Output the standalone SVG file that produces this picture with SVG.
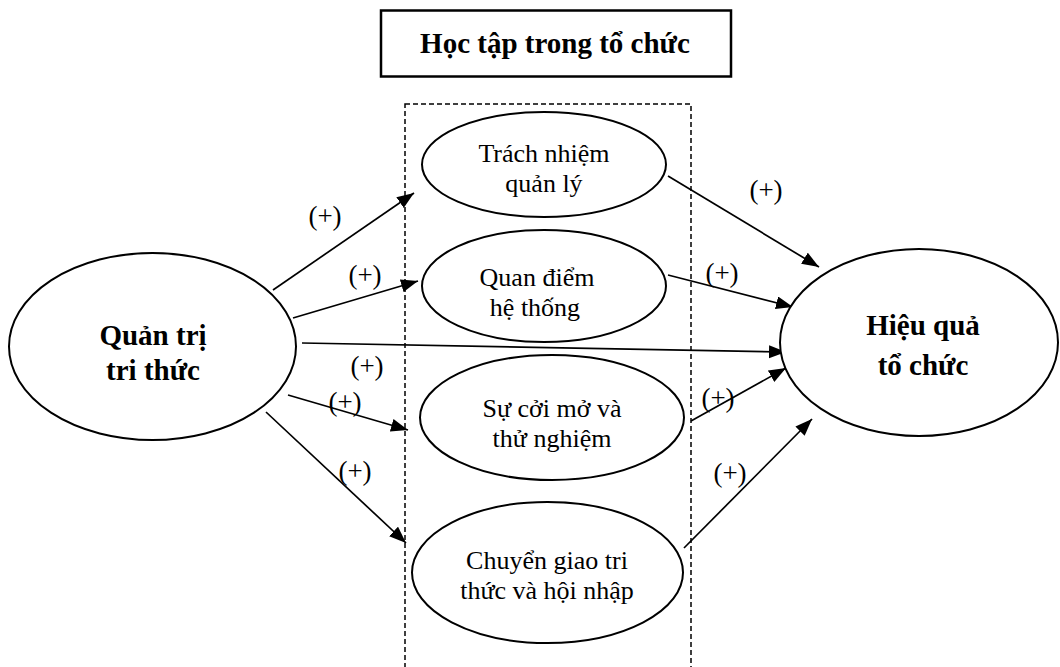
<svg xmlns="http://www.w3.org/2000/svg" width="1060" height="667" viewBox="0 0 1060 667">
  <style>
    .node { fill: #fff; stroke: #000; stroke-width: 2; }
    .txt { font-family: "Liberation Serif", "Times New Roman", serif; font-size: 26px; fill: #000; text-anchor: middle; }
    .bold { font-weight: bold; font-size: 29px; }
    .lbl { font-family: "Liberation Serif", "Times New Roman", serif; font-size: 27px; fill: #000; text-anchor: middle; }
    .edge { stroke: #000; stroke-width: 1.7; fill: none; marker-end: url(#arrow); }
    .frame { fill: none; stroke: #000; stroke-width: 1.5; stroke-dasharray: 5 3; }
  </style>
  <defs>
    <marker id="arrow" markerUnits="userSpaceOnUse" markerWidth="18" markerHeight="14" refX="17" refY="6.5" orient="auto">
      <path d="M0,0 L17,6.5 L0,13 z" fill="#000"/>
    </marker>
  </defs>

  <rect width="1060" height="667" fill="#fff"/>

  <!-- Title box -->
  <g id="title">
    <rect x="381" y="10.5" width="350" height="66" fill="#fff" stroke="#000" stroke-width="2.5"/>
    <text class="txt bold" x="555" y="53">Học tập trong tổ chức</text>
  </g>

  <!-- Dashed frame around the learning dimensions -->
  <rect id="frame" class="frame" x="405" y="104" width="286" height="600"/>

  <!-- Connectors -->
  <g id="connectors">
    <line class="edge" x1="273" y1="290" x2="414" y2="193"/>
    <line class="edge" x1="293" y1="318" x2="418" y2="281"/>
    <line class="edge" x1="302" y1="343" x2="786" y2="352"/>
    <line class="edge" x1="288" y1="395" x2="408" y2="430"/>
    <line class="edge" x1="266" y1="412" x2="406" y2="543"/>
    <line class="edge" x1="668" y1="176" x2="819" y2="267"/>
    <line class="edge" x1="668" y1="275" x2="793" y2="307"/>
    <line class="edge" x1="691" y1="421" x2="786" y2="368"/>
    <line class="edge" x1="684" y1="548" x2="812" y2="419"/>
  </g>

  <!-- Edge labels -->
  <g id="labels">
    <text class="lbl" x="325" y="225">(+)</text>
    <text class="lbl" x="365" y="284">(+)</text>
    <text class="lbl" x="367" y="375">(+)</text>
    <text class="lbl" x="345" y="411">(+)</text>
    <text class="lbl" x="355" y="480">(+)</text>
    <text class="lbl" x="766" y="199">(+)</text>
    <text class="lbl" x="722" y="282">(+)</text>
    <text class="lbl" x="718" y="407">(+)</text>
    <text class="lbl" x="730" y="482">(+)</text>
  </g>

  <!-- Nodes -->
  <g id="quan-tri-tri-thuc">
    <ellipse class="node" cx="152.5" cy="346.5" rx="143.5" ry="93.5"/>
    <text class="txt bold" x="153" y="345">Quản trị</text>
    <text class="txt bold" x="153" y="380">tri thức</text>
  </g>

  <g id="trach-nhiem">
    <ellipse class="node" cx="544" cy="164.5" rx="122" ry="52.5"/>
    <text class="txt" x="544" y="162">Trách nhiệm</text>
    <text class="txt" x="544" y="192">quản lý</text>
  </g>

  <g id="quan-diem">
    <ellipse class="node" cx="544" cy="286" rx="122" ry="56"/>
    <text class="txt" x="537" y="286">Quan điểm</text>
    <text class="txt" x="535" y="316">hệ thống</text>
  </g>

  <g id="coi-mo">
    <ellipse class="node" cx="552" cy="417.5" rx="132" ry="62.5"/>
    <text class="txt" x="552" y="417">Sự cởi mở và</text>
    <text class="txt" x="552" y="447">thử nghiệm</text>
  </g>

  <g id="chuyen-giao">
    <ellipse class="node" cx="547.5" cy="572.5" rx="135.5" ry="70.5"/>
    <text class="txt" x="547" y="569">Chuyển giao tri</text>
    <text class="txt" x="547" y="599">thức và hội nhập</text>
  </g>

  <g id="hieu-qua">
    <ellipse class="node" cx="919" cy="342.5" rx="139" ry="93.5"/>
    <text class="txt bold" x="923" y="335">Hiệu quả</text>
    <text class="txt bold" x="923" y="375">tổ chức</text>
  </g>
</svg>
